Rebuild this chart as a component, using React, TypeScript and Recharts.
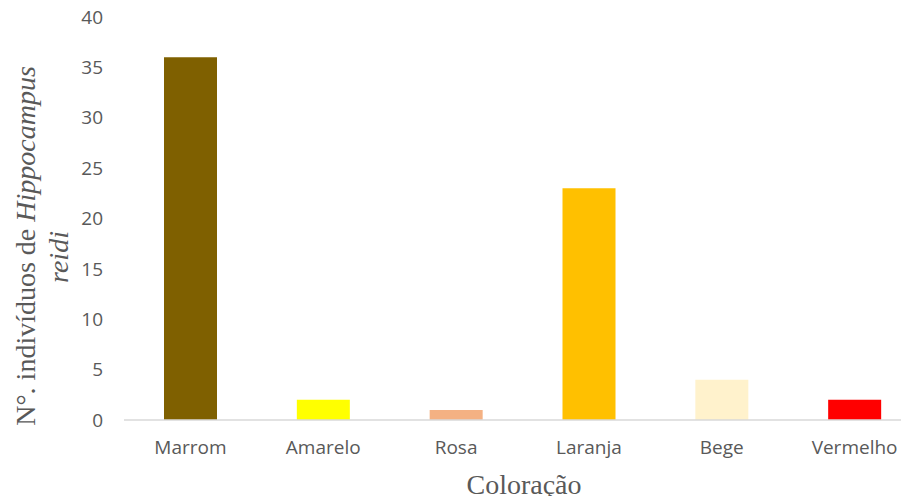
import { BarChart, Bar, XAxis, YAxis, Cell } from "recharts";

const categorias = ["Marrom", "Amarelo", "Rosa", "Laranja", "Bege", "Vermelho"];
const individuos = [36, 2, 1, 23, 4, 2];
const cores = ["#7f6000", "#ffff00", "#f4b183", "#ffc000", "#fff2cc", "#ff0000"];
const yTicks = [0, 5, 10, 15, 20, 25, 30, 35, 40];

const data = categorias.map((c, i) => ({ name: c, value: individuos[i] }));

const tickStyle = { fill: "#595959", fontSize: 19, fontFamily: "Open Sans" };
const serif = "'Liberation Serif', 'Times New Roman', serif";

function YLabel() {
  return (
    <g>
      <text
        x={35}
        y={246}
        transform="rotate(-90, 35, 246)"
        textAnchor="middle"
        fill="#595959"
        fontSize={28}
        fontFamily={serif}
      >
        N°. indivíduos de <tspan fontStyle="italic">Hippocampus</tspan>
      </text>
      <text
        x={68}
        y={257}
        transform="rotate(-90, 68, 257)"
        textAnchor="middle"
        fill="#595959"
        fontSize={28}
        fontFamily={serif}
        fontStyle="italic"
      >
        reidi
      </text>
    </g>
  );
}

function XLabel() {
  return (
    <text x={524} y={494} textAnchor="middle" fill="#595959" fontSize={28} fontFamily={serif}>
      Coloração
    </text>
  );
}

export default function App() {
  return (
    <div style={{ margin: -8, width: 909, height: 504, overflow: "hidden", background: "#fff" }}>
      <BarChart
        width={930}
        height={504}
        data={data}
        margin={{ top: 17, right: 9, bottom: 0, left: 0 }}
      >
        <XAxis
          dataKey="name"
          height={84}
          tickLine={false}
          tickSize={0}
          tickMargin={21}
          axisLine={{ stroke: "#d9d9d9", strokeWidth: 1.5 }}
          tick={tickStyle}
          interval={0}
          label={{ content: () => <XLabel /> }}
        />
        <YAxis
          width={124}
          domain={[0, 40]}
          ticks={yTicks}
          axisLine={false}
          tickLine={false}
          tickSize={0}
          tickMargin={21}
          tick={tickStyle}
          label={{ content: () => <YLabel /> }}
        />
        <Bar dataKey="value" barSize={53} isAnimationActive={false}>
          {data.map((d, i) => (
            <Cell key={d.name} fill={cores[i]} />
          ))}
        </Bar>
      </BarChart>
    </div>
  );
}
